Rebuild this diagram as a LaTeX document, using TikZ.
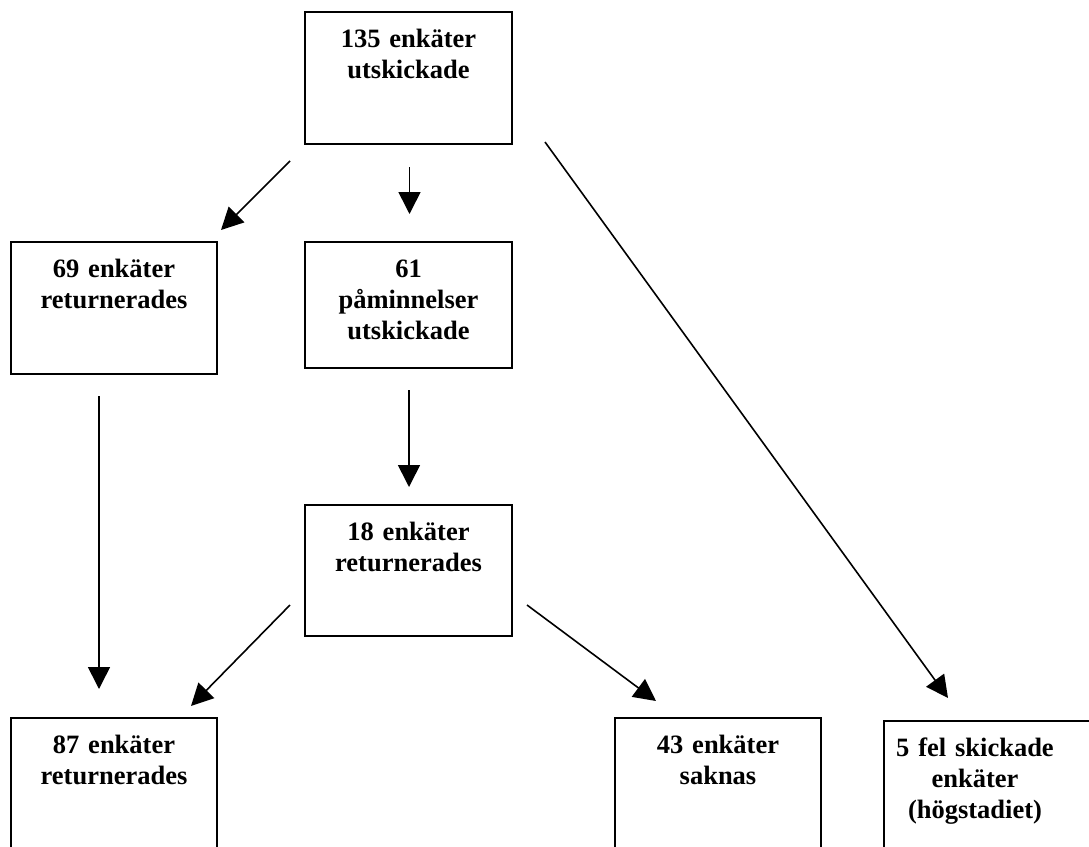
\documentclass[tikz,border=0pt]{standalone}
\usepackage{fontspec}
\setmainfont{Liberation Serif}
\usetikzlibrary{arrows.meta,calc}
\begin{document}
\begin{tikzpicture}[x=1pt,y=-1pt,
  box/.style={draw, line width=2pt, rectangle, inner sep=0pt, anchor=north west},
  txt/.style={font=\bfseries\fontsize{26.5}{31}\selectfont, align=center, text width=200pt, inner sep=0pt, anchor=base},
  arr/.style={line width=1.6pt, -{Triangle[length=22pt,width=22pt]}}]
\useasboundingbox (0,0) rectangle (1089,846);
% boxes
\node[box, minimum width=207pt, minimum height=132pt] (top) at (304,11) {};
\node[box, minimum width=206pt, minimum height=132pt] (b69) at (10,241) {};
\node[box, minimum width=207pt, minimum height=126pt] (b61) at (304,241) {};
\node[box, minimum width=207pt, minimum height=131pt] (b18) at (304,504) {};
\node[box, minimum width=206pt, minimum height=200pt] (b87) at (10,717) {};
\node[box, minimum width=206pt, minimum height=200pt] (b43) at (614,717) {};
\node[box, minimum width=230pt, minimum height=200pt] (b5) at (883,720) {};
% texts
\node[txt] (t1) at ($(top.north)+(0,36)$) {135 enkäter\\utskickade};
\node[txt] (t2) at ($(b69.north)+(0,36)$) {69 enkäter\\returnerades};
\node[txt] (t3) at ($(b61.north)+(0,36)$) {61\\påminnelser\\utskickade};
\node[txt] (t4) at ($(b18.north)+(0,36)$) {18 enkäter\\returnerades};
\node[txt] (t5) at ($(b87.north)+(0,36)$) {87 enkäter\\returnerades};
\node[txt] (t6) at ($(b43.north)+(0,36)$) {43 enkäter\\saknas};
\node[txt] (t7) at ($(b5.north west)+(92,36)$) {5 fel skickade\\enkäter\\(högstadiet)};
% connectors
\draw[arr] ([shift={(-14,16)}]top.south west) -- ([shift={(3,-11)}]b69.north east);
\draw[arr] ([shift={(1,22)}]top.south) -- ([shift={(1,-27)}]b61.north);
\draw[arr] ([shift={(32,-3)}]top.south east) -- ([shift={(65,-22)}]b5.north west);
\draw[arr] ([shift={(-15,21)}]b69.south) -- ([shift={(-15,-28)}]b87.north);
\draw[arr] ([shift={(0.5,21)}]b61.south) -- ([shift={(0.5,-17)}]b18.north);
\draw[arr] ([shift={(-14,-32)}]b18.south west) -- ([shift={(-27,-11)}]b87.north east);
\draw[arr] ([shift={(14,-32)}]b18.south east) -- ([shift={(42,-16)}]b43.north west);
\end{tikzpicture}
\end{document}
